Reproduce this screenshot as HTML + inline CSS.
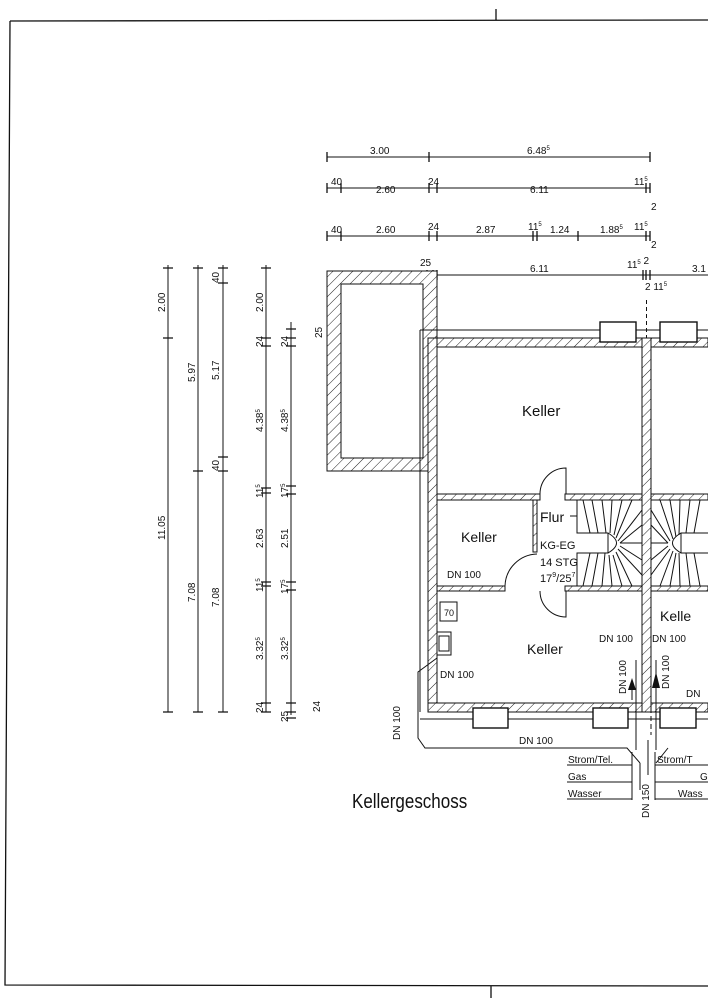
<!DOCTYPE html>
<html><head><meta charset="utf-8"><style>
html,body{margin:0;padding:0;background:#fff;}
svg{display:block;}
text{font-family:"Liberation Sans Narrow","Liberation Sans",sans-serif;fill:#111;}
.t{font-size:10px;}
.m{font-family:"Liberation Sans",sans-serif;font-size:11px;}
</style></head><body>
<svg width="708" height="1000" viewBox="0 0 708 1000" xmlns="http://www.w3.org/2000/svg">
<defs>
<pattern id="h" width="7" height="7" patternUnits="userSpaceOnUse" patternTransform="rotate(45)">
<rect width="7" height="7" fill="#fff"/><line x1="0" y1="0" x2="0" y2="7" stroke="#222" stroke-width="1"/>
</pattern>
</defs>
<g stroke="#111" fill="none" stroke-width="1">
<path d="M10 21 L708 20 M10 21 L5 985 L708 986 M496 9 V20 M491 986 V998" stroke-width="1.3"/>
<path d="M327 157 H650"/>
<path d="M327 188 H650"/>
<path d="M327 236 H650"/>
<path d="M420 275 H708"/>
</g>
<g stroke="#111" stroke-width="1.3">
<path d="M327 152v10M429 152v10M650 152v10"/>
<path d="M327 183v10M341 183v10M429 183v10M437 183v10M646 183v10M650 183v10"/>
<path d="M327 231v10M341 231v10M429 231v10M437 231v10M533 231v10M537 231v10M578 231v10M646 231v10M650 231v10"/>
<path d="M427 270v10M433 270v10M437 270v10M643 270v10M646 270v10M650 270v10"/>
</g>
<g class="t" font-size="10">
<text x="370" y="154">3.00</text><text x="527" y="154">6.48<tspan font-size="6" dy="-4">5</tspan></text>
<text x="331" y="185">40</text><text x="376" y="193">2.60</text><text x="428" y="185">24</text><text x="530" y="193">6.11</text><text x="634" y="185">11<tspan font-size="6" dy="-4">5</tspan></text><text x="651" y="210">2</text>
<text x="331" y="233">40</text><text x="376" y="233">2.60</text><text x="428" y="230">24</text><text x="476" y="233">2.87</text><text x="528" y="230">11<tspan font-size="6" dy="-4">5</tspan></text><text x="550" y="233">1.24</text><text x="600" y="233">1.88<tspan font-size="6" dy="-4">5</tspan></text><text x="634" y="230">11<tspan font-size="6" dy="-4">5</tspan></text><text x="651" y="248">2</text>
<text x="420" y="266">25</text><text x="530" y="272">6.11</text><text x="627" y="268">11<tspan font-size="6" dy="-4">5</tspan> 2</text><text x="645" y="290">2 11<tspan font-size="6" dy="-4">5</tspan></text><text x="692" y="272">3.1</text>
<text x="427" y="290" font-size="9">24</text>
</g>
<g stroke="#111" stroke-width="1">
<path d="M168 265V712M198 265V712M223 265V712M266 265V712M291 322V715"/>
</g>
<g stroke="#111" stroke-width="1.3">
<path d="M163 268h10M163 338h10M163 712h10"/>
<path d="M193 268h10M193 471h10M193 712h10"/>
<path d="M218 268h10M218 283h10M218 457h10M218 471h10M218 712h10"/>
<path d="M261 268h10M261 338h10M261 346h10M261 488h10M261 493h10M261 582h10M261 586h10M261 703h10M261 712h10"/>
<path d="M286 329h10M286 338h10M286 346h10M286 486h10M286 494h10M286 582h10M286 590h10M286 703h10M286 712h10M286 718h10"/>
</g>
<g class="t" font-size="10">
<text transform="translate(165,312) rotate(-90)">2.00</text>
<text transform="translate(165,540) rotate(-90)">11.05</text>
<text transform="translate(195,382) rotate(-90)">5.97</text>
<text transform="translate(195,602) rotate(-90)">7.08</text>
<text transform="translate(219,283) rotate(-90)">40</text>
<text transform="translate(219,380) rotate(-90)">5.17</text>
<text transform="translate(219,471) rotate(-90)">40</text>
<text transform="translate(219,607) rotate(-90)">7.08</text>
<text transform="translate(263,312) rotate(-90)">2.00</text>
<text transform="translate(263,347) rotate(-90)">24</text>
<text transform="translate(263,432) rotate(-90)">4.38<tspan font-size="6" dy="-3">5</tspan></text>
<text transform="translate(263,498) rotate(-90)">11<tspan font-size="6" dy="-3">5</tspan></text>
<text transform="translate(263,548) rotate(-90)">2.63</text>
<text transform="translate(263,592) rotate(-90)">11<tspan font-size="6" dy="-3">5</tspan></text>
<text transform="translate(263,660) rotate(-90)">3.32<tspan font-size="6" dy="-3">5</tspan></text>
<text transform="translate(263,713) rotate(-90)">24</text>
<text transform="translate(288,347) rotate(-90)">24</text>
<text transform="translate(322,338) rotate(-90)">25</text>
<text transform="translate(288,432) rotate(-90)">4.38<tspan font-size="6" dy="-3">5</tspan></text>
<text transform="translate(288,498) rotate(-90)">17<tspan font-size="6" dy="-3">5</tspan></text>
<text transform="translate(288,548) rotate(-90)">2.51</text>
<text transform="translate(288,594) rotate(-90)">17<tspan font-size="6" dy="-3">5</tspan></text>
<text transform="translate(288,660) rotate(-90)">3.32<tspan font-size="6" dy="-3">5</tspan></text>
<text transform="translate(288,722) rotate(-90)">25</text>
<text transform="translate(320,712) rotate(-90)">24</text>
</g>
<g stroke="#111" stroke-width="1">
<path fill="url(#h)" fill-rule="evenodd" d="M327 271H437V338H428V471H327Z M341 284V458H423V284Z"/>
<path fill="none" d="M420 330H708M420 330V471M420 471V712"/>
<path fill="none" d="M420 719H708"/>
<rect x="428" y="338" width="280" height="9" fill="url(#h)"/>
<rect x="428" y="338" width="9" height="374" fill="url(#h)"/>
<rect x="428" y="703" width="280" height="9" fill="url(#h)"/>
<rect x="642" y="338" width="9" height="374" fill="url(#h)"/>
<path d="M646.5 300V338" stroke-dasharray="4 3" fill="none"/>
<rect x="437" y="494" width="103" height="6" fill="url(#h)"/>
<rect x="565" y="494" width="77" height="6" fill="url(#h)"/>
<rect x="651" y="494" width="57" height="6" fill="url(#h)"/>
<rect x="437" y="586" width="68" height="5" fill="url(#h)"/>
<rect x="533" y="500" width="4" height="52" fill="url(#h)"/>
<rect x="565" y="586" width="77" height="5" fill="url(#h)"/>
<rect x="651" y="586" width="57" height="5" fill="url(#h)"/>
<path fill="none" d="M540 494 A26 26 0 0 1 566 468 V494"/>
<path fill="none" d="M505 586 A33 33 0 0 1 537 554"/>
<path fill="none" d="M540 591 A26 26 0 0 0 566 617 V591"/>
<rect x="600" y="322" width="36" height="20" fill="#fff" stroke-width="1.4"/>
<rect x="660" y="322" width="37" height="20" fill="#fff" stroke-width="1.4"/>
<rect x="473" y="708" width="35" height="20" fill="#fff" stroke-width="1.4"/>
<rect x="593" y="708" width="35" height="20" fill="#fff" stroke-width="1.4"/>
<rect x="660" y="708" width="36" height="20" fill="#fff" stroke-width="1.4"/>
<path fill="none" d="M577 500V533H608V553H577V586"/>
<path fill="none" d="M608 533 Q625 543 608 553"/>
<path fill="none" d="M583 500L590 533M592 500L598 533M602 500L606 533M612 500L610 533M622 500L614 535M632 500L616 538M642 510L618 541M642 525L620 543M642 543H620M642 560L620 546M642 575L618 549M632 586L616 552M622 586L613 555M612 586L609 555M602 586L605 553M592 586L598 553M583 586L590 553"/>
<path fill="none" d="M577 516H570" />
<path fill="none" d="M708 533H681V553H708"/>
<path fill="none" d="M681 533 Q664 543 681 553"/>
<path fill="none" d="M700 500L694 533M690 500L686 533M680 500L679 535M670 500L676 537M660 500L673 539M651 510L670 541M651 525L668 543M651 543H668M651 560L668 546M651 575L670 549M660 586L673 551M670 586L676 553M680 586L679 553M690 586L686 553M700 586L694 553"/>
<rect x="440" y="602" width="17" height="19" fill="#fff"/>
<rect x="437" y="632" width="14" height="23" fill="#fff"/>
<rect x="439" y="636" width="10" height="15" fill="none"/>
<path fill="none" d="M437 658 L418 672 V738 L425 748 H627 L640 763 M656 763 L668 748"/>
<path fill="none" d="M636 660V750M656 660V750M640 763V790M648 740V775" />
<path fill="none" d="M651 700V735" stroke-dasharray="5 3"/>
<path fill="none" d="M567 765H632M567 782H632M567 799H632M632 752V800"/>
<path fill="none" d="M655 765H708M655 782H708M655 799H708M655 752V800"/>
</g>
<path d="M632 678 L628 690 H636 Z M656 672 L652 688 H660 Z" fill="#111"/>
<path d="M632 690V700M656 688V700" stroke="#111"/>
<g class="m">
<text x="522" y="416" font-size="15">Keller</text>
<text x="461" y="542" font-size="14">Keller</text>
<text x="540" y="522" font-size="14">Flur</text>
<text x="540" y="549" font-size="11">KG-EG</text>
<text x="540" y="566" font-size="11">14 STG</text>
<text x="540" y="582" font-size="11">17<tspan font-size="7" dy="-5">9</tspan><tspan dy="5">/25</tspan><tspan font-size="7" dy="-5">7</tspan></text>
<text x="447" y="578" font-size="10">DN 100</text>
<text x="444" y="616" font-size="9">70</text>
<text x="527" y="654" font-size="14">Keller</text>
<text x="440" y="678" font-size="10">DN 100</text>
<text x="660" y="621" font-size="14">Kelle</text>
<text x="599" y="642" font-size="10">DN 100</text>
<text x="652" y="642" font-size="10">DN 100</text>
<text transform="translate(626,694) rotate(-90)" font-size="10">DN 100</text>
<text transform="translate(669,689) rotate(-90)" font-size="10">DN 100</text>
<text x="686" y="697" font-size="10">DN</text>
<text transform="translate(400,740) rotate(-90)" font-size="10">DN 100</text>
<text x="519" y="744" font-size="10">DN 100</text>
<text x="568" y="763" font-size="10">Strom/Tel.</text>
<text x="568" y="780" font-size="10">Gas</text>
<text x="568" y="797" font-size="10">Wasser</text>
<text x="657" y="763" font-size="10">Strom/T</text>
<text x="700" y="780" font-size="10">G</text>
<text x="678" y="797" font-size="10">Wass</text>
<text transform="translate(649,818) rotate(-90)" font-size="10">DN 150</text>
</g>
<text x="352" y="808" font-size="20" transform="translate(352,808) scale(0.85,1) translate(-352,-808)">Kellergeschoss</text>
</svg>
</body></html>
